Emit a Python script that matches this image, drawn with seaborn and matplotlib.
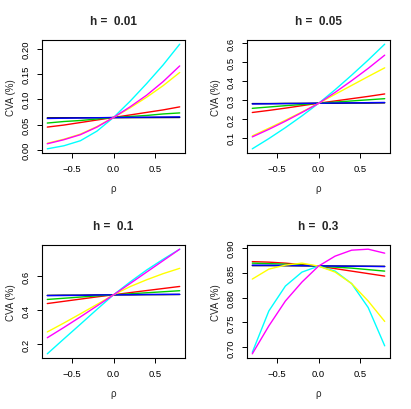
import numpy as np
import pandas as pd
import matplotlib
matplotlib.use("Agg")
import matplotlib.pyplot as plt
import seaborn as sns

# nilai rho (sumbu x)
rho = [-0.8, -0.6, -0.4, -0.2, 0.0, 0.2, 0.4, 0.6, 0.8]

# urutan seri dan warnanya (palet dasar R), magenta digambar terakhir
series_names = ["s1", "s2", "s3", "s4", "s5", "s7", "s6"]
series_colors = ["black", "red", "#00CD00", "blue", "cyan", "yellow", "magenta"]

h_labels = ["h =  0.01", "h =  0.05", "h =  0.1", "h =  0.3"]

# CVA (%) untuk h = 0.01  (urutan baris sama dengan series_names)
cva_001 = [
    [0.0632, 0.0633, 0.0634, 0.0635, 0.0636, 0.0637, 0.0638, 0.0639, 0.0640],
    [0.045, 0.049, 0.054, 0.059, 0.064, 0.069, 0.074, 0.079, 0.085],
    [0.053, 0.056, 0.058, 0.061, 0.064, 0.066, 0.068, 0.071, 0.073],
    [0.0620, 0.0625, 0.0630, 0.0635, 0.0640, 0.0643, 0.0646, 0.0649, 0.0652],
    [0.002, 0.008, 0.018, 0.037, 0.064, 0.096, 0.131, 0.168, 0.209],
    [0.013, 0.021, 0.031, 0.046, 0.064, 0.083, 0.104, 0.127, 0.153],
    [0.012, 0.020, 0.030, 0.045, 0.064, 0.085, 0.108, 0.135, 0.166],
]

# CVA (%) untuk h = 0.05
cva_005 = [
    [0.281, 0.281, 0.282, 0.282, 0.283, 0.283, 0.284, 0.284, 0.285],
    [0.234, 0.245, 0.257, 0.270, 0.283, 0.295, 0.307, 0.319, 0.332],
    [0.256, 0.263, 0.270, 0.276, 0.283, 0.289, 0.295, 0.301, 0.307],
    [0.279, 0.280, 0.281, 0.282, 0.283, 0.284, 0.285, 0.286, 0.287],
    [0.042, 0.096, 0.154, 0.216, 0.282, 0.354, 0.431, 0.511, 0.595],
    [0.110, 0.151, 0.193, 0.237, 0.282, 0.330, 0.377, 0.424, 0.470],
    [0.105, 0.145, 0.188, 0.234, 0.282, 0.340, 0.402, 0.467, 0.537],
]

# CVA (%) untuk h = 0.1
cva_01 = [
    [0.487, 0.488, 0.488, 0.489, 0.490, 0.490, 0.491, 0.491, 0.492],
    [0.439, 0.452, 0.465, 0.478, 0.490, 0.503, 0.515, 0.527, 0.539],
    [0.463, 0.470, 0.477, 0.484, 0.490, 0.496, 0.502, 0.508, 0.514],
    [0.485, 0.486, 0.487, 0.489, 0.490, 0.491, 0.492, 0.493, 0.493],
    [0.145, 0.232, 0.318, 0.405, 0.490, 0.565, 0.635, 0.698, 0.757],
    [0.273, 0.325, 0.379, 0.434, 0.490, 0.538, 0.578, 0.614, 0.645],
    [0.239, 0.299, 0.361, 0.425, 0.490, 0.556, 0.623, 0.690, 0.757],
]

# CVA (%) untuk h = 0.3
cva_03 = [
    [0.8640, 0.8640, 0.8638, 0.8636, 0.8634, 0.8632, 0.8630, 0.8628, 0.8626],
    [0.872, 0.871, 0.869, 0.866, 0.863, 0.858, 0.853, 0.848, 0.843],
    [0.869, 0.868, 0.867, 0.865, 0.863, 0.861, 0.859, 0.856, 0.853],
    [0.8650, 0.8648, 0.8645, 0.8640, 0.8635, 0.8630, 0.8627, 0.8625, 0.8620],
    [0.690, 0.773, 0.823, 0.851, 0.863, 0.853, 0.828, 0.780, 0.703],
    [0.837, 0.857, 0.865, 0.869, 0.863, 0.851, 0.828, 0.793, 0.752],
    [0.687, 0.743, 0.793, 0.831, 0.863, 0.883, 0.895, 0.897, 0.889],
]

panels = [cva_001, cva_005, cva_01, cva_03]
y_ticks = [
    [0.00, 0.05, 0.10, 0.15, 0.20],
    [0.1, 0.2, 0.3, 0.4, 0.5, 0.6],
    [0.2, 0.4, 0.6],
    [0.70, 0.75, 0.80, 0.85, 0.90],
]
y_fmt = ["{:.2f}", "{:.1f}", "{:.1f}", "{:.2f}"]

sns.set_style("ticks")
plt.rcParams["font.family"] = ["Liberation Sans", "DejaVu Sans"]
plt.rcParams["axes.edgecolor"] = "black"
plt.rcParams["xtick.color"] = "black"
plt.rcParams["ytick.color"] = "black"

W, H = 411, 410
fig = plt.figure(figsize=(W / 100, H / 100), dpi=100)

# posisi panel dalam piksel (kiri, atas)
origins = [(0, 0), (205, 0), (0, 205), (205, 205)]
for i, (ox, oy) in enumerate(origins):
    left, right, top, bottom = ox + 42, ox + 185, oy + 41, oy + 154
    ax = fig.add_axes([left / W, 1 - bottom / H, (right - left) / W, (bottom - top) / H])

    rows = []
    for name, vals in zip(series_names, panels[i]):
        for x, v in zip(rho, vals):
            rows.append({"rho": x, "cva": v, "seri": name})
    df = pd.DataFrame(rows)

    sns.lineplot(data=df, x="rho", y="cva", hue="seri", hue_order=series_names,
                 palette=series_colors, linewidth=1.0, legend=False, ax=ax,
                 estimator=None, sort=True)

    ax.margins(x=0.04, y=0.04)
    ax.set_xticks([-0.5, 0.0, 0.5])
    ax.set_xticklabels(["\u22120.5", "0.0", "0.5"])
    ax.set_yticks(y_ticks[i])
    ax.set_yticklabels([y_fmt[i].format(t) for t in y_ticks[i]], rotation=90, va="center")
    ax.tick_params(axis="both", labelsize=6.8, length=3.5, width=0.7)
    ax.tick_params(axis="x", pad=4.5)
    ax.tick_params(axis="y", pad=5)
    for sp in ax.spines.values():
        sp.set_visible(True)
        sp.set_linewidth(0.8)
    ax.set_xlabel("ρ", fontsize=7, labelpad=7)
    ax.set_ylabel("CVA (%)", fontsize=7, labelpad=3.5)
    ax.set_title(h_labels[i], fontsize=8.5, fontweight="bold", pad=11.5)

fig.savefig("out.png", dpi=100, facecolor="white")
